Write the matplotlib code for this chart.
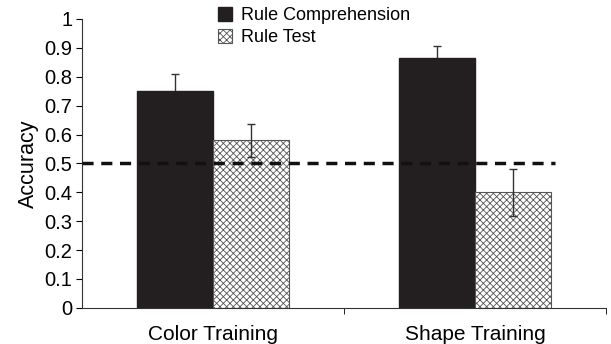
import matplotlib.pyplot as plt
import numpy as np

plt.rcParams['font.family'] = ['Liberation Sans', 'DejaVu Sans']
plt.rcParams['hatch.color'] = '#9a9a9a'
plt.rcParams['hatch.linewidth'] = 0.6

groups = ["Color Training", "Shape Training"]
comp = [0.75, 0.865]
comp_err = [0.06, 0.042]
test = [0.58, 0.40]
test_err = [0.057, 0.082]
chance = 0.5

fig = plt.figure(figsize=(6.11, 3.44), dpi=100)
ax = fig.add_axes([0.134, 0.105, 0.858, 0.84])

x = np.arange(len(groups))
w = 0.29
b1 = ax.bar(x - w/2, comp, w, color='#231f20', edgecolor='#231f20', label='Rule Comprehension', zorder=2)
b2 = ax.bar(x + w/2, test, w, color='white', edgecolor='#555555', linewidth=0.8,
            hatch='xxxxx', label='Rule Test', zorder=2)
ax.errorbar(x - w/2, comp, yerr=comp_err, fmt='none', ecolor='#333333', elinewidth=1,
            capsize=3, capthick=1, zorder=1)
ax.errorbar(x + w/2, test, yerr=test_err, fmt='none', ecolor='#333333', elinewidth=1,
            capsize=3, capthick=1, zorder=3)

ax.plot([-0.5, 1.305], [chance, chance], color='#111111', lw=2.5, ls=(0, (3.2, 2.2)), zorder=4)

ax.set_xlim(-0.5, 1.5)
ax.set_ylim(0, 1)
ax.set_yticks(np.arange(0, 1.01, 0.1))
ax.set_yticklabels(['0', '0.1', '0.2', '0.3', '0.4', '0.5', '0.6', '0.7', '0.8', '0.9', '1'])
ax.set_xticks(x)
ax.set_xticklabels(groups)
ax.set_xticks([0.5, 1.5], minor=True)
ax.tick_params(axis='x', which='major', length=0, labelsize=15, pad=12)
ax.tick_params(axis='x', which='minor', length=4, direction='out')
ax.tick_params(axis='y', length=4, labelsize=14.5, pad=3)
ax.set_ylabel('Accuracy', fontsize=15.5, labelpad=4)

for s in ['top', 'right']:
    ax.spines[s].set_visible(False)
for s in ['left', 'bottom']:
    ax.spines[s].set_color('#333333')

fig.legend(handles=[b1, b2], loc='upper left', bbox_to_anchor=(0.345, 1.0),
           frameon=False, fontsize=13, handlelength=0.8, handleheight=0.8,
           handletextpad=0.5, labelspacing=0.25, borderaxespad=0)

fig.savefig('out.png', dpi=100)
